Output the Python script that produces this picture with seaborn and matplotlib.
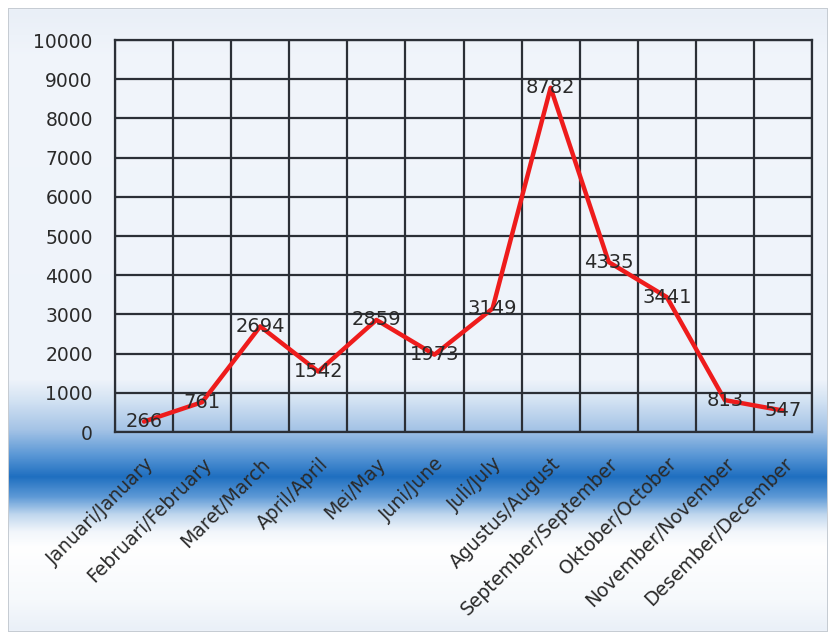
import numpy as np
import pandas as pd
import matplotlib
matplotlib.use("Agg")
import matplotlib.pyplot as plt
from matplotlib.colors import LinearSegmentedColormap
import seaborn as sns

months = ["Januari/January", "Februari/February", "Maret/March", "April/April",
          "Mei/May", "Juni/June", "Juli/July", "Agustus/August",
          "September/September", "Oktober/October", "November/November",
          "Desember/December"]
values = [266, 761, 2694, 1542, 2859, 1973, 3149, 8782, 4335, 3441, 813, 547]
yticks = [0, 1000, 2000, 3000, 4000, 5000, 6000, 7000, 8000, 9000, 10000]

sns.set_style("white")
plt.rcParams['font.family'] = ['DejaVu Sans']

W, H = 835, 640
fig = plt.figure(figsize=(W / 100, H / 100), dpi=100)

# background gradient, pixel-exact
stops = [(0.0, "#ffffff"), (10/640, "#e9eff7"), (60/640, "#f1f5fb"), (380/640, "#eef3fa"),
         (400/640, "#d4e3f3"), (430/640, "#a4c3e6"), (455/640, "#5b98d6"),
         (477/640, "#1f6fc0"), (497/640, "#5d99d6"), (515/640, "#c0d7ee"),
         (532/640, "#f2f6fb"), (548/640, "#ffffff"), (600/640, "#f6f9fc"),
         (630/640, "#eaf0f8"), (1.0, "#ffffff")]
cmap = LinearSegmentedColormap.from_list("bg", stops, N=2048)
col = cmap(np.linspace(0, 1, H))[:, :3]
img = np.repeat(col[:, None, :], W, axis=1)
img[:, :8] = 1.0
img[:, 828:] = 1.0
img[:8, :] = 1.0
img[632:, :] = 1.0
frame = np.array([0.78, 0.80, 0.83])
img[8, 8:828] = frame
img[631, 8:828] = frame
img[8:632, 8] = frame
img[8:632, 827] = frame
fig.figimage(img, xo=0, yo=0, origin="upper", zorder=-10)

ax = fig.add_axes([115/W, 1 - 432/H, (812-115)/W, (432-40)/H])
ax.patch.set_alpha(0)

df = pd.DataFrame({"month": months, "value": values, "x": np.arange(len(months))})
sns.lineplot(data=df, x="x", y="value", ax=ax, color="#ee1c1c", lw=3.2, zorder=5)

for xi, v in zip(df["x"], values):
    ax.text(xi, v, str(v), ha="center", va="center", fontsize=14, color="#2a2a2a", zorder=6)

ax.set_xlim(-0.5, len(months) - 0.5)
ax.set_ylim(0, 10000)
ax.set_yticks(yticks)
ax.set_yticklabels([str(t) for t in yticks], fontsize=13.5, color="#2a2a2a")
ax.set_xticks(np.arange(len(months)))
ax.set_xticklabels(months, rotation=45, ha="right", rotation_mode="anchor",
                   fontsize=13.5, color="#2a2a2a")
ax.tick_params(axis="y", length=0, pad=16)
ax.tick_params(axis="x", length=0, pad=16)
for yv in yticks:
    ax.axhline(yv, color="#2b2f36", lw=1.6, zorder=1)
for xv in np.arange(-0.5, len(months)):
    ax.axvline(xv, color="#2b2f36", lw=1.6, zorder=1)
for s in ax.spines.values():
    s.set_color("#2b2f36")
    s.set_linewidth(1.6)
ax.set_xlabel("")
ax.set_ylabel("")

fig.savefig("out.png", dpi=100)
